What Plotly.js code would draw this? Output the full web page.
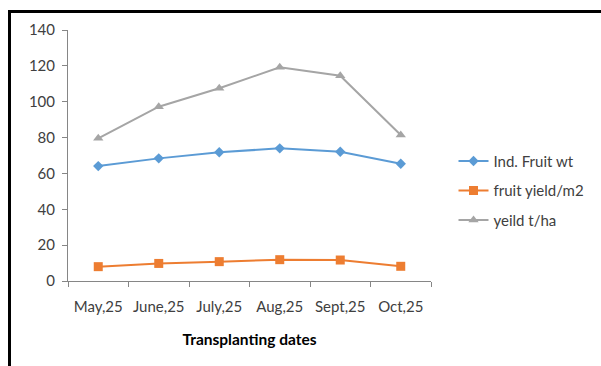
<!DOCTYPE html>
<html>
<head>
<meta charset="utf-8">
<script src="https://cdn.plot.ly/plotly-3.0.1.min.js"></script>
<style>
  html, body { margin: 0; padding: 0; background: #fff; }
  #wrap { position: relative; width: 601px; height: 366px; }
  #chart { position: absolute; left: 0; top: 0; width: 601px; height: 366px; }
  #frame { position: absolute; left: 8px; top: 10px; width: 593px; height: 356px;
           border-top: 3px solid #000; border-left: 3px solid #000; box-sizing: border-box; pointer-events: none; }
</style>
</head>
<body>
<div id="wrap">
  <div id="chart"></div>
  <div id="frame"></div>
</div>
<script>
const categories = ["May,25", "June,25", "July,25", "Aug,25", "Sept,25", "Oct,25"];
const indFruitWt = [64.1, 68.4, 71.8, 74.0, 72.1, 65.4];
const fruitYieldM2 = [8.0, 9.8, 10.8, 11.9, 11.7, 8.2];
const yieldTHa = [79.6, 97.2, 107.5, 119.2, 114.5, 81.4];
const yTicks = [0, 20, 40, 60, 80, 100, 120, 140];

const FONT = "Lato, 'Open Sans', sans-serif";

const traces = [
  { x: categories, y: indFruitWt, name: "Ind. Fruit wt", type: "scatter", mode: "lines+markers",
    legendgroup: "a",
    line: { color: "#5B9BD5", width: 2 }, marker: { symbol: "diamond", size: 8, color: "#5B9BD5" } },
  { x: categories, y: fruitYieldM2, name: "fruit yield/m2", type: "scatter", mode: "lines+markers",
    legendgroup: "b",
    line: { color: "#ED7D31", width: 2 }, marker: { symbol: "square", size: 9, color: "#ED7D31" } },
  { x: categories, y: yieldTHa, name: "yeild t/ha", type: "scatter", mode: "lines+markers",
    legendgroup: "c",
    line: { color: "#A5A5A5", width: 2 }, marker: { symbol: "triangle-up", size: 9, color: "#A5A5A5" } }
];

const layout = {
  width: 601, height: 366,
  margin: { l: 68, r: 167, t: 30, b: 85, pad: 0 },
  paper_bgcolor: "#fff", plot_bgcolor: "#fff",
  font: { family: FONT, size: 15, color: "#404040" },
  showlegend: true,
  legend: {
    x: 1.062, xanchor: "left", y: 0.543, yanchor: "top",
    traceorder: "grouped", tracegroupgap: 7,
    font: { family: FONT, size: 15, color: "#404040" },
    bgcolor: "rgba(0,0,0,0)"
  },
  xaxis: {
    type: "category", range: [-0.5, 5.5], tickangle: 0, automargin: false,
    showline: true, linecolor: "#868686", linewidth: 1,
    ticks: "outside", ticklen: 5, tickcolor: "#868686", tickson: "boundaries",
    showgrid: false, zeroline: false, ticklabelstandoff: 12,
    tickfont: { family: FONT, size: 15, color: "#404040" },
    title: { text: "<b>Transplanting dates</b>", font: { family: FONT, size: 15.5, color: "#000" }, standoff: 20 }
  },
  yaxis: {
    range: [0, 140], tickvals: yTicks, ticktext: yTicks.map(String), automargin: false,
    showline: true, linecolor: "#868686", linewidth: 1,
    ticks: "outside", ticklen: 5, tickcolor: "#868686",
    showgrid: false, zeroline: false, ticklabelstandoff: 4,
    tickfont: { family: FONT, size: 15, color: "#404040" }
  }
};

Plotly.newPlot("chart", traces, layout, { displayModeBar: false, staticPlot: true });
</script>
</body>
</html>
